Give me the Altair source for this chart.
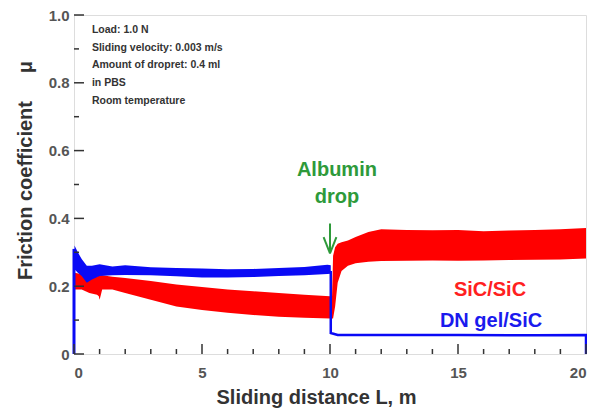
import altair as alt
import pandas as pd

# ---- data ----
# SiC/SiC friction band (lower / upper envelope)
red_x  = [0.03, 0.3, 0.6, 0.9, 0.97, 1.0, 1.05, 1.1, 1.5, 2.0, 3.0, 4.0, 5.0, 6.0, 7.0, 8.0, 9.0, 10.0,
          10.08, 10.12, 10.2, 10.3, 10.45, 10.7, 11.0, 11.5, 12.0, 13.0, 14.0, 15.0, 16.0, 17.0, 18.0, 19.0, 20.0]
red_lo = [0.19, 0.19, 0.18, 0.175, 0.17, 0.16, 0.175, 0.19, 0.19, 0.18, 0.16, 0.14, 0.13, 0.122, 0.115, 0.11, 0.107, 0.105,
          0.105, 0.105, 0.14, 0.21, 0.245, 0.26, 0.268, 0.272, 0.274, 0.275, 0.276, 0.275, 0.276, 0.277, 0.278, 0.279, 0.282]
red_hi = [0.24, 0.235, 0.23, 0.228, 0.232, 0.23, 0.232, 0.232, 0.228, 0.224, 0.215, 0.205, 0.198, 0.19, 0.185, 0.18, 0.175, 0.17,
          0.17, 0.29, 0.315, 0.325, 0.33, 0.335, 0.345, 0.36, 0.368, 0.366, 0.365, 0.366, 0.362, 0.364, 0.366, 0.368, 0.372]

# DN gel/SiC friction band before the drop
blue_x  = [0.02, 0.15, 0.3, 0.5, 0.7, 1.0, 1.5, 2.0, 3.0, 4.0, 5.0, 6.0, 7.0, 8.0, 9.0, 9.9, 10.03]
blue_lo = [0.25, 0.24, 0.23, 0.21, 0.22, 0.23, 0.232, 0.233, 0.232, 0.229, 0.226, 0.226, 0.227, 0.23, 0.232, 0.236, 0.237]
blue_hi = [0.32, 0.30, 0.28, 0.26, 0.26, 0.265, 0.258, 0.262, 0.256, 0.254, 0.252, 0.25, 0.251, 0.254, 0.257, 0.263, 0.262]

# DN gel/SiC thin trace (start edge, drop and after)
start_x = [0.0, 0.0]
start_y = [0.0, 0.31]
after_x = [10.03, 10.03, 10.3, 12.0, 15.0, 18.0, 20.0, 20.0]
after_y = [0.245, 0.062, 0.056, 0.056, 0.056, 0.055, 0.056, 0.0]

info_lines = ["Load: 1.0 N", "Sliding velocity: 0.003 m/s", "Amount of dropret: 0.4 ml",
              "in PBS", "Room temperature"]
info_y = [0.956, 0.903, 0.853, 0.80, 0.746]

x_major = [0, 5, 10, 15, 20]
x_minor = [v for v in range(0, 21) if v % 5 != 0]
y_major = [0.0, 0.2, 0.4, 0.6, 0.8, 1.0]
y_minor = [0.1, 0.3, 0.5, 0.7, 0.9]

W, H = 512, 339
FONT = "Liberation Sans"
NB = "\u00a0"

red_df = pd.DataFrame({"x": red_x, "lo": red_lo, "hi": red_hi})
blue_df = pd.DataFrame({"x": blue_x, "lo": blue_lo, "hi": blue_hi})
start_df = pd.DataFrame({"x": start_x, "y": start_y, "o": range(len(start_x))})
after_df = pd.DataFrame({"x": after_x, "y": after_y, "o": range(len(after_x))})
info_df = pd.DataFrame({"x": [0.70] * len(info_lines), "y": info_y, "t": info_lines})

xs = alt.Scale(domain=[0, 20], nice=False, zero=False)
ys = alt.Scale(domain=[0, 1], nice=False)

xaxis = alt.Axis(values=x_major, ticks=False, domain=False, grid=False,
                 labelFont=FONT, labelFontSize=15, labelFontWeight="bold", labelColor="#555",
                 labelPadding=11, title="Sliding distance L, m", titleFont=FONT, titleFontSize=20,
                 titleFontWeight="bold", titleColor="#333", titleX=242, titleY=43,
                 titleBaseline="middle", titleAlign="center")
yaxis = alt.Axis(values=y_major, ticks=False, domain=False, grid=False,
                 labelExpr="datum.value == 0 ? '0' : format(datum.value, '.1f')",
                 labelFont=FONT, labelFontSize=15, labelFontWeight="bold", labelColor="#555",
                 labelPadding=5, title="Friction coefficient" + NB * 5 + "μ", titleFont=FONT,
                 titleFontSize=20, titleFontWeight="bold", titleColor="#333", titleX=-49, titleY=155,
                 titleBaseline="middle", titleAlign="center", titleAngle=-90)

X = lambda f: alt.X(f, type="quantitative", scale=xs, axis=xaxis)
Y = lambda f: alt.Y(f, type="quantitative", scale=ys, axis=yaxis)

red = alt.Chart(red_df).mark_area(color="#ff0000", clip=True).encode(
    x=X("x"), y=Y("lo"), y2="hi")
blue = alt.Chart(blue_df).mark_area(color="#0a0af5", clip=True).encode(
    x=X("x"), y=Y("lo"), y2="hi")
start_line = alt.Chart(start_df).mark_line(color="#0a0af5", strokeWidth=3, clip=False).encode(
    x=X("x"), y=Y("y"), order="o:Q")
after_line = alt.Chart(after_df).mark_line(color="#0a0af5", strokeWidth=2.5, clip=False).encode(
    x=X("x"), y=Y("y"), order="o:Q")

# arrow (Albumin drop)
arrow_df = pd.DataFrame({"x": [10.0, 9.75, 10.25], "x2": [10.0, 10.0, 10.0],
                         "y": [0.385, 0.345, 0.345], "y2": [0.297, 0.297, 0.297]})
arrow = alt.Chart(arrow_df).mark_rule(color="#2e9a3a", strokeWidth=2).encode(
    x=X("x"), x2="x2", y=Y("y"), y2="y2")

albumin_df = pd.DataFrame({"x": [10.27, 10.27], "y": [0.543, 0.463], "t": ["Albumin", "drop"]})
albumin = alt.Chart(albumin_df).mark_text(font=FONT, fontSize=20, fontWeight="bold",
                                          color="#2e9a3a", align="center", baseline="middle").encode(
    x=X("x"), y=Y("y"), text="t")

lab_df = pd.DataFrame({"x": [16.25, 16.29], "y": [0.189, 0.097], "t": ["SiC/SiC", "DN gel/SiC"],
                       "c": ["#ff2020", "#1a1aee"]})
labels = alt.Chart(lab_df).mark_text(font=FONT, fontSize=20, fontWeight="bold",
                                     align="center", baseline="middle").encode(
    x=X("x"), y=Y("y"), text="t", color=alt.Color("c:N", scale=None))

info = alt.Chart(info_df).mark_text(font=FONT, fontSize=10.5, fontWeight="bold", color="#333",
                                    align="left", baseline="middle").encode(
    x=X("x"), y=Y("y"), text="t")

# inward ticks
xmaj = alt.Chart(pd.DataFrame({"v": x_major})).mark_rule(color="#333", strokeWidth=1.5).encode(
    x=X("v"), y=alt.value(H), y2=alt.value(H - 10))
xmin = alt.Chart(pd.DataFrame({"v": x_minor})).mark_rule(color="#333", strokeWidth=1.5).encode(
    x=X("v"), y=alt.value(H), y2=alt.value(H - 5))
ymaj = alt.Chart(pd.DataFrame({"v": y_major})).mark_rule(color="#333", strokeWidth=1.5).encode(
    y=Y("v"), x=alt.value(0), x2=alt.value(10))
ymin = alt.Chart(pd.DataFrame({"v": y_minor})).mark_rule(color="#333", strokeWidth=1.5).encode(
    y=Y("v"), x=alt.value(0), x2=alt.value(5))

chart = alt.layer(red, blue, start_line, after_line, arrow, albumin, labels, info,
                  xmaj, xmin, ymaj, ymin).properties(
    width=W, height=H,
    autosize=alt.AutoSizeParams(type="none"),
    padding={"left": 66, "top": 7, "right": 1, "bottom": 57},
).configure_view(stroke="#333", strokeWidth=2).configure(background="white")

chart.save("out.html", embed_options={"renderer": "svg", "actions": False})
